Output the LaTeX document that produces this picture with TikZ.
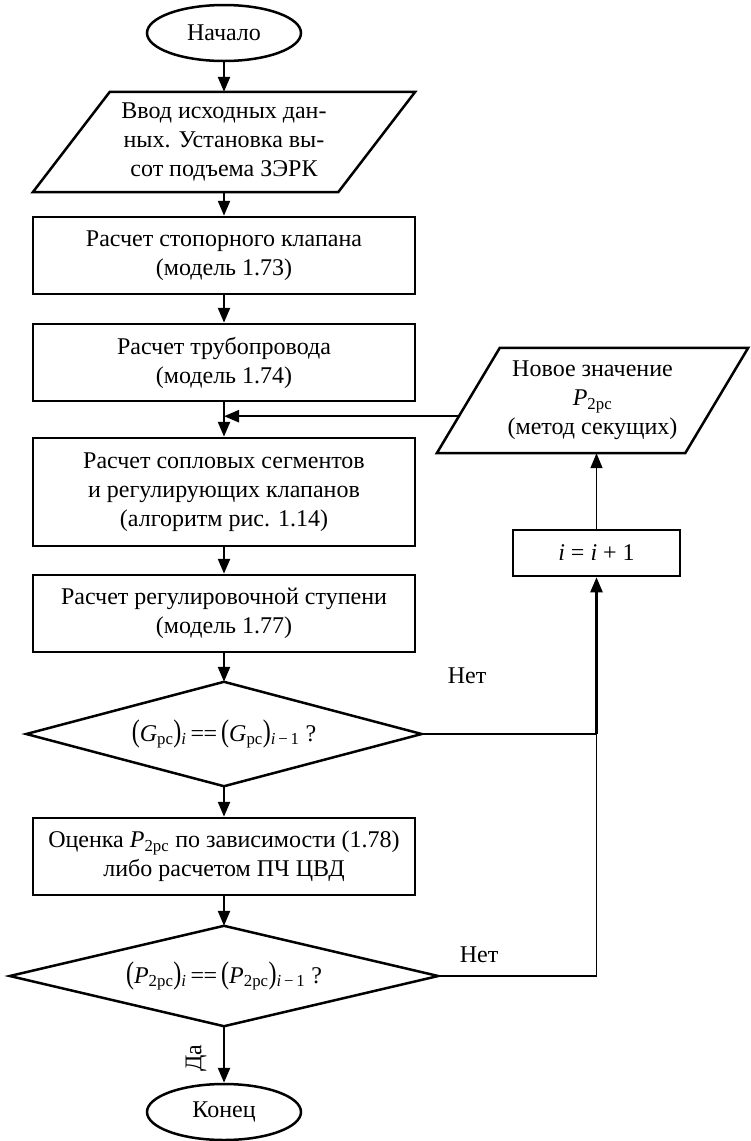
\documentclass[tikz,border=0pt]{standalone}
\usepackage{fontspec}
\setmainfont{Liberation Serif}
\usepackage{graphicx}
\usetikzlibrary{shapes.geometric,arrows.meta,calc}
\newcommand\bpar[1]{\scalebox{1}[1.3]{(}#1\scalebox{1}[1.3]{)}}
\newcommand\sbs[1]{\textsubscript{#1}}
\begin{document}
\begin{tikzpicture}[x=1pt,y=-1pt,
  every node/.style={font=\fontsize{24}{29}\selectfont, align=center, inner sep=0pt},
  proc/.style={draw, line width=2.5pt, rectangle},
  term/.style={draw, line width=2.5pt, ellipse, minimum width=154pt, minimum height=56pt},
  io/.style={rectangle},
  shapeline/.style={line width=2.5pt, line join=miter},
  conn/.style={line width=2.4pt, -{Triangle[length=15pt,width=12pt]}},
  thinconn/.style={line width=1.4pt, -{Triangle[length=15pt,width=12pt]}},
  wire/.style={line width=1.8pt}]
\useasboundingbox (0,0) rectangle (750,1141);

% main column
\node[term] (start) at (224,33) {Начало};
\node[io, minimum width=382pt, minimum height=100pt] (inp) at (224,142) {Ввод исходных дан-\\ных. Установка вы-\\сот подъема ЗЭРК};
\draw[shapeline] ($(inp.north west)+(77,0)$) -- (inp.north east) -- ($(inp.south east)+(-77,0)$) -- (inp.south west) -- cycle;
\node[proc, minimum width=382pt, minimum height=77pt] (b1) at (224,255.5) {Расчет стопорного клапана\\(модель 1.73)};
\node[proc, minimum width=382pt, minimum height=77pt] (b2) at (224,362.5) {Расчет трубопровода\\(модель 1.74)};
\node[proc, minimum width=382pt, minimum height=108pt] (b3) at (224,492) {Расчет сопловых сегментов\\и регулирующих клапанов\\(алгоритм рис. 1.14)};
\node[proc, minimum width=382pt, minimum height=77pt] (b4) at (224,613.5) {Расчет регулировочной ступени\\(модель 1.77)};
\node[io, minimum width=395pt, minimum height=104pt] (d1) at (224,734) {\bpar{\textit{G}\sbs{рс}}\sbs{\textit{i}}\,=\kern-0.5pt=\,\bpar{\textit{G}\sbs{рс}}\sbs{\textit{i}\,−\,1}\ ?};
\draw[shapeline] (d1.north) -- (d1.east) -- (d1.south) -- (d1.west) -- cycle;
\node[proc, minimum width=382pt, minimum height=77pt] (b5) at (224,856.5) {Оценка \textit{P}\sbs{2рс} по зависимости (1.78)\\либо расчетом ПЧ ЦВД};
\node[io, minimum width=428pt, minimum height=100pt] (d2) at (224,976) {\bpar{\textit{P}\sbs{2рс}}\sbs{\textit{i}}\,=\kern-0.5pt=\,\bpar{\textit{P}\sbs{2рс}}\sbs{\textit{i}\,−\,1}\ ?};
\draw[shapeline] (d2.north) -- (d2.east) -- (d2.south) -- (d2.west) -- cycle;
\node[term] (end) at (224,1112) {Конец};

% right column
\node[io, minimum width=311pt, minimum height=105pt] (p2) at (592.5,400.5) {Новое значение\\\textit{P}\sbs{2рс}\\(метод секущих)};
\draw[shapeline] ($(p2.north west)+(63,0)$) -- (p2.north east) -- ($(p2.south east)+(-63,0)$) -- (p2.south west) -- cycle;
\node[proc, minimum width=167pt, minimum height=46pt] (inc) at (596.5,553) {\textit{i} = \textit{i} + 1};

% labels
\node (n1) at (467,676) {Нет};
\node (n2) at (479,955) {Нет};
\node[rotate=90] (da) at (196,1058) {Да};

% connectors
\draw[conn] (start) -- (inp);
\draw[conn] (inp) -- (b1);
\draw[conn] (b1) -- (b2);
\draw[conn] (b2) -- (b3);
\draw[conn] (b3) -- (b4);
\draw[conn] (b4) -- (d1);
\draw[conn] (d1) -- (b5);
\draw[conn] (b5) -- (d2);
\draw[conn] (d2) -- (end);

\coordinate (j1) at (inc.south |- d1.east);
\coordinate (fb) at ($(p2.south west)+(22.2,-37)$);
\draw[wire, line width=2.4pt] (d1.east) -- (j1);
\draw[wire] (d2.east) -| (j1);
\draw[conn] (j1) -- (inc.south);
\draw[thinconn] (inc.north) -- (inc.north |- p2.south);
\draw[conn] (fb) -- (b2.south |- fb);
\end{tikzpicture}
\end{document}
